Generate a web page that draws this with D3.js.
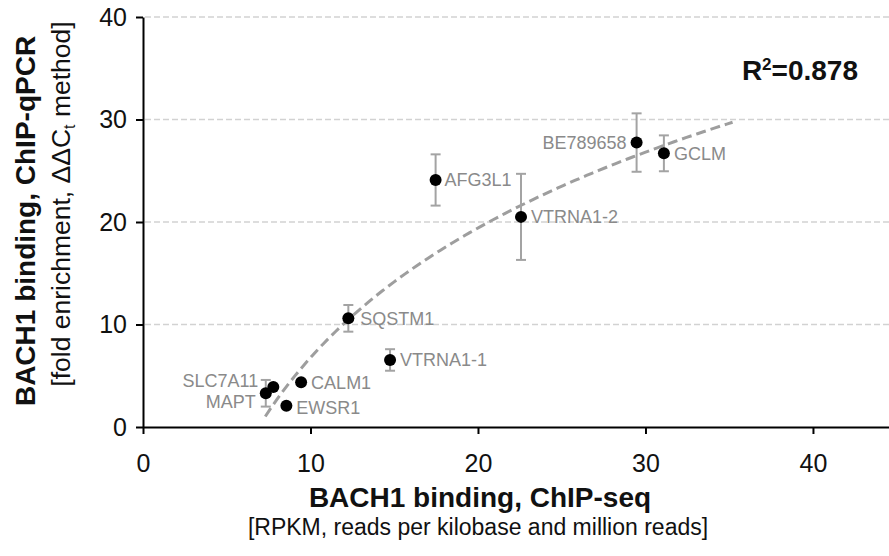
<!DOCTYPE html>
<html>
<head>
<meta charset="utf-8">
<script src="https://cdn.jsdelivr.net/npm/d3@7"></script>
<style>
  body { margin: 0; background: #fff; }
  svg { display: block; font-family: "Liberation Sans", Arial, Helvetica, sans-serif; }
  .grid line { stroke: #d2d2d2; stroke-width: 1.5; stroke-dasharray: 6,3; }
  .axis path, .axis line { stroke: #000; stroke-width: 2; }
  .axis text { fill: #111; }
  .errbar { stroke: #a3a3a3; stroke-width: 2; fill: none; }
  .fit { stroke: #9e9e9e; stroke-width: 3; stroke-dasharray: 10,5; fill: none; }
  .gene { fill: #8a8a8a; font-size: 18px; }
</style>
</head>
<body>
<svg id="chart" width="889" height="556"></svg>
<script>
// values
var genes    = ["SLC7A11", "MAPT", "EWSR1", "CALM1", "SQSTM1", "VTRNA1-1", "AFG3L1", "VTRNA1-2", "BE789658", "GCLM"];
var chipSeq  = [7.78, 7.33, 8.56, 9.44, 12.26, 14.75, 17.47, 22.57, 29.47, 31.1];
var chipQpcr = [3.9, 3.29, 2.08, 4.36, 10.6, 6.54, 24.1, 20.5, 27.75, 26.7];
var qpcrErr  = [0.3, 1.3, 0.3, 0.3, 1.3, 1.05, 2.5, 4.2, 2.85, 1.75];
var xTicks = [0, 10, 20, 30, 40];
var yTicks = [0, 10, 20, 30, 40];
var fitRange = [7.3, 35.2];
var r2Text = "0.878";

// label placement (layout only)
var labelSide = ["left", "left", "right", "right", "right", "right", "right", "right", "left", "right"];
var labelNudge = [[-5, -7], [0, 8], [0, 2], [0, 0], [2, 0], [0, 0], [-1, 0], [0, 0], [0, 0], [0, 0]];

var data = genes.map(function(g, i) {
  return { gene: g, x: chipSeq[i], y: chipQpcr[i], err: qpcrErr[i], side: labelSide[i], nudge: labelNudge[i] };
});

var svg = d3.select("#chart");

var x = d3.scaleLinear().domain([0, 44.54]).range([143, 889]);
var y = d3.scaleLinear().domain([0, 40]).range([427, 17]);

// gridlines
svg.append("g").attr("class", "grid")
  .selectAll("line")
  .data(yTicks.filter(function(d) { return d > 0; }))
  .enter().append("line")
  .attr("x1", x(0) + 2).attr("x2", 889)
  .attr("y1", function(d) { return y(d); })
  .attr("y2", function(d) { return y(d); });

// log fit y = a ln(x) + b from the points
var lx = data.map(function(d) { return Math.log(d.x); });
var mx = d3.mean(lx), my = d3.mean(chipQpcr);
var sxy = 0, sxx = 0;
data.forEach(function(d, i) { sxy += (lx[i] - mx) * (d.y - my); sxx += (lx[i] - mx) * (lx[i] - mx); });
var fa = sxy / sxx, fb = my - fa * mx;
var fitPts = d3.range(fitRange[0], fitRange[1] + 0.001, (fitRange[1] - fitRange[0]) / 80);

svg.append("path")
  .datum(fitPts)
  .attr("class", "fit")
  .attr("d", d3.line()
    .x(function(d) { return x(d); })
    .y(function(d) { return y(fa * Math.log(d) + fb); }));

// axes
var xAxis = svg.append("g")
  .attr("class", "axis")
  .attr("transform", "translate(0," + y(0) + ")")
  .call(d3.axisBottom(x).tickValues(xTicks).tickSize(7).tickPadding(20).tickSizeOuter(0));
xAxis.selectAll("text").style("font-size", "25px");

var yAxis = svg.append("g")
  .attr("class", "axis")
  .attr("transform", "translate(" + x(0) + ",0)")
  .call(d3.axisLeft(y).tickValues(yTicks).tickSize(7).tickPadding(9).tickSizeOuter(0));
yAxis.selectAll("text").style("font-size", "25px");

// error bars
var eb = svg.append("g").selectAll("g")
  .data(data.filter(function(d) { return d.err > 0.5; }))
  .enter().append("g").attr("class", "errbar");
eb.append("line")
  .attr("x1", function(d) { return x(d.x); }).attr("x2", function(d) { return x(d.x); })
  .attr("y1", function(d) { return y(d.y - d.err); }).attr("y2", function(d) { return y(d.y + d.err); });
eb.append("line")
  .attr("x1", function(d) { return x(d.x) - 5; }).attr("x2", function(d) { return x(d.x) + 5; })
  .attr("y1", function(d) { return y(d.y + d.err); }).attr("y2", function(d) { return y(d.y + d.err); });
eb.append("line")
  .attr("x1", function(d) { return x(d.x) - 5; }).attr("x2", function(d) { return x(d.x) + 5; })
  .attr("y1", function(d) { return y(d.y - d.err); }).attr("y2", function(d) { return y(d.y - d.err); });

// points
svg.append("g").selectAll("circle")
  .data(data)
  .enter().append("circle")
  .attr("cx", function(d) { return x(d.x); })
  .attr("cy", function(d) { return y(d.y); })
  .attr("r", 6)
  .attr("fill", "#000");

// gene labels
svg.append("g").selectAll("text")
  .data(data)
  .enter().append("text")
  .attr("class", "gene")
  .attr("x", function(d) { return x(d.x) + (d.side == "left" ? -10 : 10) + d.nudge[0]; })
  .attr("y", function(d) { return y(d.y) + d.nudge[1]; })
  .attr("dy", "0.36em")
  .attr("text-anchor", function(d) { return d.side == "left" ? "end" : "start"; })
  .text(function(d) { return d.gene; });

// R squared
var r2 = svg.append("text")
  .attr("x", 858).attr("y", 80)
  .attr("text-anchor", "end")
  .style("font-size", "28px").style("font-weight", "bold").attr("fill", "#111");
r2.append("tspan").text("R");
r2.append("tspan").attr("dy", -10).style("font-size", "17px").text("2");
r2.append("tspan").attr("dy", 10).text("=" + r2Text);

// axis titles
svg.append("text")
  .attr("x", 480).attr("y", 507)
  .attr("text-anchor", "middle")
  .style("font-size", "28px").style("font-weight", "bold").attr("fill", "#111")
  .text("BACH1 binding, ChIP-seq");
svg.append("text")
  .attr("x", 478).attr("y", 535)
  .attr("text-anchor", "middle")
  .style("font-size", "23px").attr("fill", "#111")
  .text("[RPKM, reads per kilobase and million reads]");

svg.append("text")
  .attr("transform", "translate(35,221) rotate(-90)")
  .attr("text-anchor", "middle")
  .style("font-size", "28px").style("font-weight", "bold").attr("fill", "#111")
  .text("BACH1 binding, ChIP-qPCR");
var ysub = svg.append("text")
  .attr("transform", "translate(70,204) rotate(-90)")
  .attr("text-anchor", "middle")
  .style("font-size", "26.5px").attr("fill", "#111");
ysub.append("tspan").text("[fold enrichment, \u0394\u0394C");
ysub.append("tspan").attr("dy", 5).style("font-size", "16px").text("t");
ysub.append("tspan").attr("dy", -5).text(" method]");
</script>
</body>
</html>
